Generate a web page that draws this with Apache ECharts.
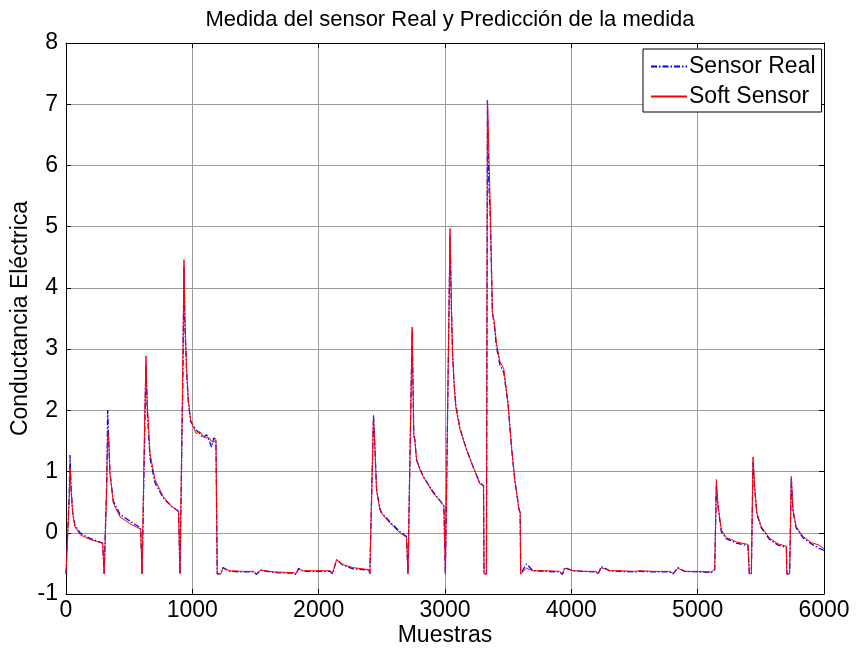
<!DOCTYPE html>
<html>
<head>
<meta charset="utf-8">
<title>Medida del sensor Real y Predicción de la medida</title>
<script src="https://cdn.jsdelivr.net/npm/echarts@6/dist/echarts.min.js"></script>
<style>
  html, body { margin: 0; padding: 0; background: #fff; }
  #chart { width: 856px; height: 651px; }
</style>
</head>
<body>
<div id="chart"></div>
<script>
  // muestras (eje x)
  var muestras = [
    0, 15, 25, 32, 40, 53, 71, 111, 150, 190, 240, 290, 298, 302, 314,
    322, 330, 338, 348, 374, 427, 506, 560, 591, 598, 602, 612,
    622, 633, 643, 665, 704, 770, 836, 891, 898, 902, 915,
    925, 934, 941, 955, 968, 986, 1007, 1030, 1060, 1085, 1113, 1135, 1152, 1170, 1187, 1193, 1197,
    1225, 1242, 1297, 1400, 1482, 1509, 1540, 1650, 1799, 1820, 1841, 1878, 2000, 2089, 2110,
    2142, 2194, 2273, 2392, 2405, 2418,
    2434, 2447, 2458, 2484, 2497, 2563, 2642, 2695, 2703, 2707, 2722,
    2740, 2753, 2761, 2775, 2800, 2827, 2906, 2991, 2999, 3003, 3015,
    3040, 3050, 3059, 3070, 3085, 3117, 3170, 3222, 3275, 3305, 3309, 3328,
    3336, 3345, 3360, 3375, 3390, 3407, 3434, 3465, 3499, 3526, 3552, 3586, 3595, 3599,
    3613, 3645, 3697, 3800, 3908, 3930, 3948, 4014, 4100, 4198, 4211, 4238, 4304, 4383,
    4502, 4515, 4540, 4650, 4778, 4805, 4844, 4897, 5000, 5108, 5121, 5135,
    5148, 5161, 5187, 5227, 5266, 5306, 5398, 5405, 5409, 5425,
    5438, 5451, 5469, 5504, 5570, 5635, 5702, 5706, 5728,
    5741, 5754, 5780, 5833, 5899, 5960, 6000
  ];

  // Sensor Real
  var sensorReal = [
    -0.67, -0.67, 0.6, 1.27, 0.75, 0.32, 0.12, 0.0, -0.05, -0.09, -0.13, -0.17, -0.18, -0.67, -0.67,
    0.8, 2.0, 1.5, 0.98, 0.52, 0.30, 0.19, 0.12, 0.08, 0.06, -0.67, -0.67,
    1.5, 2.75, 2.0, 1.22, 0.82, 0.57, 0.43, 0.35, 0.33, -0.67, -0.67,
    2.5, 4.35, 3.4, 2.6, 2.15, 1.82, 1.75, 1.68, 1.62, 1.55, 1.6, 1.5, 1.40, 1.55, 1.52, 1.5, -0.67,
    -0.67, -0.57, -0.63, -0.64, -0.64, -0.68, -0.61, -0.65, -0.66, -0.68, -0.58, -0.63, -0.63, -0.63, -0.67,
    -0.44, -0.53, -0.59, -0.61, -0.67, -0.67,
    1.92, 1.30, 0.72, 0.40, 0.33, 0.18, 0.02, -0.06, -0.07, -0.67, -0.67,
    3.3, 1.6, 1.52, 1.19, 1.06, 0.92, 0.67, 0.44, 0.43, -0.67, -0.67,
    4.85, 3.7, 2.99, 2.5, 2.1, 1.72, 1.36, 1.08, 0.82, 0.77, -0.67, -0.67,
    7.07, 5.85, 5.0, 3.6, 3.4, 3.04, 2.75, 2.62, 2.1, 1.41, 0.87, 0.38, 0.33, -0.67,
    -0.66, -0.51, -0.62, -0.63, -0.64, -0.68, -0.57, -0.62, -0.63, -0.64, -0.68, -0.55, -0.62, -0.63,
    -0.64, -0.67, -0.63, -0.64, -0.64, -0.67, -0.57, -0.63, -0.64, -0.65, -0.68, -0.6,
    0.76, 0.43, 0.02, -0.1, -0.13, -0.17, -0.21, -0.22, -0.67, -0.67,
    1.15, 0.72, 0.30, 0.08, -0.11, -0.2, -0.24, -0.67, -0.67,
    0.9, 0.36, 0.08, -0.08, -0.18, -0.25, -0.29
  ];

  // Soft Sensor
  var softSensor = [
    -0.67, -0.67, 0.5, 1.08, 0.7, 0.32, 0.10, -0.03, -0.07, -0.11, -0.14, -0.17, -0.18, -0.67, -0.67,
    0.7, 1.68, 1.55, 0.98, 0.49, 0.26, 0.15, 0.09, 0.06, 0.05, -0.67, -0.67,
    1.8, 2.89, 2.12, 1.30, 0.87, 0.59, 0.43, 0.35, 0.33, -0.67, -0.67,
    2.8, 4.46, 3.48, 2.66, 2.17, 1.85, 1.74, 1.62, 1.65, 1.58, 1.55, 1.55, 1.49, 1.48, 1.52, 1.5, -0.67,
    -0.67, -0.58, -0.62, -0.63, -0.63, -0.67, -0.61, -0.64, -0.65, -0.67, -0.59, -0.62, -0.62, -0.62, -0.66,
    -0.44, -0.52, -0.57, -0.60, -0.67, -0.67,
    1.92, 1.30, 0.70, 0.38, 0.32, 0.16, 0.0, -0.07, -0.08, -0.67, -0.67,
    3.36, 1.57, 1.52, 1.19, 1.04, 0.92, 0.65, 0.44, 0.43, -0.67, -0.67,
    4.97, 3.8, 2.99, 2.5, 2.06, 1.7, 1.36, 1.08, 0.8, 0.77, -0.67, -0.67,
    7.07, 6.4, 5.2, 3.6, 3.45, 3.1, 2.8, 2.68, 2.12, 1.41, 0.87, 0.38, 0.33, -0.67,
    -0.66, -0.58, -0.62, -0.62, -0.63, -0.67, -0.58, -0.62, -0.63, -0.63, -0.67, -0.57, -0.62, -0.62,
    -0.63, -0.66, -0.62, -0.63, -0.63, -0.66, -0.58, -0.63, -0.63, -0.64, -0.67, -0.6,
    0.87, 0.45, 0.05, -0.08, -0.11, -0.15, -0.19, -0.2, -0.67, -0.67,
    1.24, 0.76, 0.32, 0.10, -0.09, -0.18, -0.22, -0.67, -0.67,
    0.92, 0.38, 0.1, -0.06, -0.16, -0.2, -0.26
  ];

  var xTicks = { min: 0, max: 6000, interval: 1000 };
  var yTicks = { min: -1, max: 8, interval: 1 };

  var realData = muestras.map(function (x, i) { return [x, sensorReal[i]]; });
  var softData = muestras.map(function (x, i) { return [x, softSensor[i]]; });

  var fuente = 'Liberation Sans, Arial, Helvetica, sans-serif';
  var chart = echarts.init(document.getElementById('chart'));

  var ejeComun = {
    type: 'value',
    axisLine: { show: true, onZero: false, lineStyle: { color: '#000', width: 1 } },
    axisTick: { show: true, inside: true, length: 5, lineStyle: { color: '#000' } }
  };

  chart.setOption({
    animation: false,
    backgroundColor: '#fff',
    title: {
      text: 'Medida del sensor Real y Predicción de la medida',
      left: 445,
      top: 4,
      textAlign: 'center',
      textStyle: { fontFamily: fuente, fontSize: 22, fontWeight: 'normal', color: '#000' }
    },
    legend: {
      orient: 'vertical',
      left: 643,
      top: 49,
      padding: [6, 6, 4, 7],
      itemGap: 7,
      itemWidth: 36,
      itemHeight: 14,
      backgroundColor: '#fff',
      borderColor: '#000',
      borderWidth: 1,
      borderRadius: 0,
      itemStyle: { opacity: 0 },
      textStyle: { fontFamily: fuente, fontSize: 23, color: '#000', padding: [0, 0, 0, -3] },
      data: ['Sensor Real', 'Soft Sensor']
    },
    grid: { left: 66, right: 32, top: 43, bottom: 57, containLabel: false, outerBoundsMode: 'none' },
    xAxis: [
      Object.assign({}, ejeComun, {
        position: 'bottom',
        min: xTicks.min, max: xTicks.max, interval: xTicks.interval,
        name: 'Muestras',
        nameLocation: 'middle',
        nameGap: 30,
        nameMoveOverlap: false,
        nameTextStyle: { fontFamily: fuente, fontSize: 23, color: '#000' },
        axisLabel: {
          fontFamily: fuente, fontSize: 23, color: '#000', margin: 5,
          formatter: function (v) { return String(v); }
        },
        splitLine: { show: true, lineStyle: { color: '#9a9a9a', width: 1 } }
      }),
      Object.assign({}, ejeComun, {
        position: 'top',
        min: xTicks.min, max: xTicks.max, interval: xTicks.interval,
        axisLabel: { show: false },
        splitLine: { show: false }
      })
    ],
    yAxis: [
      Object.assign({}, ejeComun, {
        position: 'left',
        min: yTicks.min, max: yTicks.max, interval: yTicks.interval,
        name: 'Conductancia Eléctrica',
        nameLocation: 'middle',
        nameGap: 34,
        nameMoveOverlap: false,
        nameRotate: 90,
        nameTextStyle: { fontFamily: fuente, fontSize: 23, color: '#000' },
        axisLabel: { fontFamily: fuente, fontSize: 23, color: '#000', margin: 8 },
        splitLine: { show: true, lineStyle: { color: '#9a9a9a', width: 1 } }
      }),
      Object.assign({}, ejeComun, {
        position: 'right',
        min: yTicks.min, max: yTicks.max, interval: yTicks.interval,
        axisLabel: { show: false },
        splitLine: { show: false }
      })
    ],
    series: [
      {
        name: 'Sensor Real',
        type: 'line',
        symbol: 'none',
        data: realData,
        itemStyle: { color: '#0000ff' },
        lineStyle: { color: '#0000ff', width: 1.3, type: [6, 2, 1.5, 2] }
      },
      {
        name: 'Soft Sensor',
        type: 'line',
        symbol: 'none',
        data: softData,
        itemStyle: { color: '#ff0000' },
        lineStyle: { color: '#ff0000', width: 1 }
      }
    ]
  });
</script>
</body>
</html>
